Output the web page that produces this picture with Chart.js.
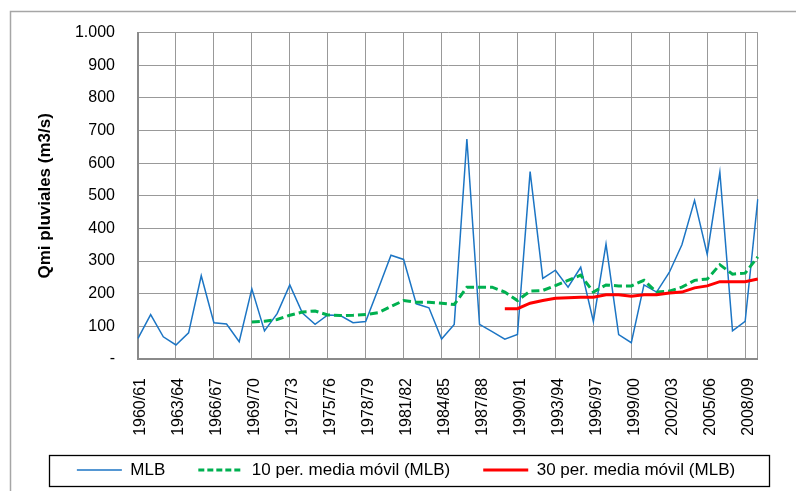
<!DOCTYPE html>
<html>
<head>
<meta charset="utf-8">
<script src="https://cdn.jsdelivr.net/npm/chart.js@4.4.1/dist/chart.umd.min.js"></script>
<style>
  html, body { margin: 0; padding: 0; background: #fff; }
</style>
</head>
<body>
<canvas id="chart" width="796" height="491"></canvas>
<script>
// hydrological years 1960/61 .. 2009/10
const years = []
for (let y = 1960; y <= 2009; y++) {
  years.push(y + '/' + String(y + 1).slice(-2))
}

const mlb = [
  63, 136, 68, 43, 80, 255, 111, 107, 53, 215,
  86, 139, 227, 141, 106, 135, 133, 111, 115, 215,
  318, 305, 169, 157, 61, 106, 674, 106, 84, 61,
  75, 574, 247, 272, 220, 281, 115, 352, 75, 50,
  227, 205, 265, 350, 486, 321, 572, 86, 115, 490
]

const ma10 = [
  null, null, null, null, null, null, null, null, null, 113,
  116, 121, 134, 144, 147, 135, 133, 134, 136, 142,
  161, 179, 174, 174, 171, 167, 220, 220, 220, 205,
  179, 208, 210, 225, 241, 257, 205, 227, 224, 224,
  241, 205, 208, 220, 241, 245, 289, 260, 263, 313
]

const ma30 = [
  null, null, null, null, null, null, null, null, null, null,
  null, null, null, null, null, null, null, null, null, null,
  null, null, null, null, null, null, null, null, null, 154,
  154, 171, 179, 186, 188, 189, 189, 197, 197, 192,
  197, 197, 202, 205, 218, 224, 237, 237, 237, 245
]

const yTicks = { min: 0, max: 1000, step: 100 }

Chart.defaults.font.family = '"Liberation Sans", Arial, sans-serif'
Chart.defaults.color = '#000'

const PLOT_BOTTOM = 359

const framePlugin = {
  id: 'frame',
  beforeDraw(chart) {
    const ctx = chart.ctx
    ctx.save()
    ctx.fillStyle = '#fff'
    ctx.fillRect(0, 0, chart.width, chart.height)
    ctx.strokeStyle = '#a6a6a6'
    ctx.lineWidth = 1.5
    ctx.beginPath()
    ctx.moveTo(10.5, chart.height)
    ctx.lineTo(10.5, 11.5)
    ctx.lineTo(chart.width, 11.5)
    ctx.stroke()
    ctx.restore()
  },
  afterLayout(chart) {
    // put the legend row where the original has it
    const lg = chart.legend
    lg.left += 27
    lg.right += 27
    lg.top = 428.5
    lg.bottom = chart.height
  },
  afterDraw(chart) {
    const ctx = chart.ctx
    ctx.save()
    ctx.strokeStyle = '#000'
    ctx.lineWidth = 1.3
    ctx.strokeRect(49.5, 455.5, 720, 31)
    ctx.restore()
  }
}

function legendLabels(chart) {
  const items = Chart.defaults.plugins.legend.labels.generateLabels(chart)
  items.forEach((it) => {
    const ds = chart.data.datasets[it.datasetIndex]
    it.lineWidth = ds.borderWidth
    it.lineDash = ds.borderDash ? [6, 3] : []
  })
  return items
}

new Chart(document.getElementById('chart'), {
  type: 'line',
  data: {
    labels: years,
    datasets: [
      {
        label: 'MLB',
        data: mlb,
        borderColor: '#1c75c4',
        borderWidth: 1.5,
        order: 3
      },
      {
        label: '10 per. media móvil (MLB)',
        data: ma10,
        borderColor: '#00b050',
        borderWidth: 3,
        borderDash: [8, 4],
        order: 2
      },
      {
        label: '30 per. media móvil (MLB)',
        data: ma30,
        borderColor: '#ff0000',
        borderWidth: 3,
        order: 1
      }
    ]
  },
  options: {
    responsive: false,
    animation: false,
    layout: { padding: { left: 0, right: 38, top: 30, bottom: 0 } },
    elements: {
      point: { radius: 0, hoverRadius: 0 },
      line: { tension: 0 }
    },
    plugins: {
      tooltip: { enabled: false },
      legend: {
        position: 'bottom',
        maxHeight: 30,
        labels: {
          usePointStyle: true,
          pointStyle: 'line',
          pointStyleWidth: 45,
          padding: 33,
          font: { size: 17 },
          generateLabels: legendLabels,
          sort: (a, b) => a.datasetIndex - b.datasetIndex
        }
      }
    },
    scales: {
      x: {
        offset: false,
        grid: {
          drawTicks: false,
          lineWidth: 1,
          color: (c) => (c.index % 3 === 0 || c.index === years.length - 1) ? '#999' : 'rgba(0,0,0,0)'
        },
        border: { color: '#8a8a8a', width: 2 },
        ticks: {
          autoSkip: false,
          maxRotation: 90,
          minRotation: 90,
          padding: 19,
          labelOffset: 3,
          font: { size: 16 },
          callback: function (value, index) {
            return index % 3 === 0 ? years[index] : ''
          }
        },
        afterFit(scale) {
          scale.height = scale.chart.height - PLOT_BOTTOM - scale.chart.legend.height
        }
      },
      y: {
        min: yTicks.min,
        max: yTicks.max,
        grid: { drawTicks: false, color: '#999', lineWidth: 1 },
        border: { color: '#8a8a8a', width: 2 },
        ticks: {
          stepSize: yTicks.step,
          padding: 23,
          font: { size: 16 },
          callback: (v) => v === 0 ? '-' : v.toLocaleString('de-DE')
        },
        title: {
          display: true,
          text: 'Qmi pluviales (m3/s)',
          font: { size: 17, weight: 'bold' },
          padding: { top: 35, bottom: 0 }
        },
        afterFit(scale) {
          scale.width = 138
        }
      }
    }
  },
  plugins: [framePlugin]
})
</script>
</body>
</html>
